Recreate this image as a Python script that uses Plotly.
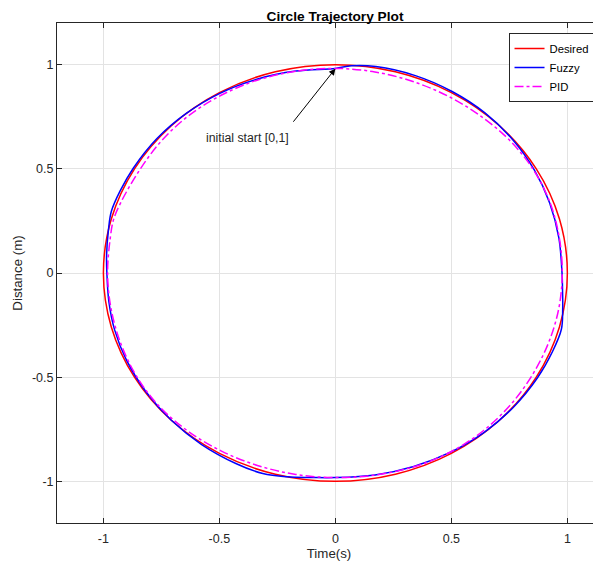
import numpy as np
import plotly.graph_objects as go

# ---- data (angles in degrees, radii) ----
DESIRED_ANG = [0, 15, 30, 45, 60, 75, 90, 105, 120, 135, 150, 165, 180, 195, 210, 225,
               240, 255, 270, 285, 300, 315, 330, 345, 360]
DESIRED_R = [1.0, 1.0, 1.0, 1.0, 1.0, 1.0, 1.0, 1.0, 1.0, 1.0, 1.0, 1.0, 1.0, 1.0, 1.0,
             1.0, 1.0, 1.0, 1.0, 1.0, 1.0, 1.0, 1.0, 1.0, 1.0]

FUZZY_ANG = [90, 100, 110, 120, 130, 140, 150, 157, 163, 168, 175, 180, 188, 196, 205, 215,
             225, 235, 245, 252, 258, 264, 270, 280, 290, 300, 310, 320, 330, 338, 344.5,
             350, 355, 360, 370, 380, 390, 400, 410, 420, 430, 440, 446, 450]
FUZZY_R = [0.982, 0.984, 0.99, 0.996, 1.0, 1.004, 1.006, 1.008, 1.01, 1.0, 0.99, 0.985,
           0.986, 0.99, 0.993, 0.996, 1.0, 1.005, 1.01, 1.012, 1.0, 0.987, 0.982, 0.984,
           0.988, 0.993, 0.998, 1.002, 1.006, 1.009, 1.011, 0.995, 0.983, 0.977, 0.978,
           0.983, 0.99, 0.997, 1.003, 1.006, 1.008, 1.006, 0.997, 0.982]

PID_ANG = [90, 100, 110, 120, 130, 140, 150, 160, 165, 170, 180, 190, 200, 210, 220, 230,
           240, 250, 260, 270, 280, 290, 300, 310, 320, 330, 340, 350, 360, 370, 380, 390,
           400, 410, 420, 430, 440, 450]
PID_R = [0.982, 0.983, 0.985, 0.985, 0.985, 0.982, 0.978, 0.985, 0.99, 0.985, 0.982, 0.982,
         0.985, 0.99, 0.993, 0.99, 0.986, 0.983, 0.982, 0.982, 0.985, 0.99, 0.992, 0.99,
         0.985, 0.98, 0.978, 0.978, 0.978, 0.98, 0.985, 0.987, 0.985, 0.98, 0.978, 0.978,
         0.98, 0.982]

X_TICKS = [-1, -0.5, 0, 0.5, 1]
X_TICK_TEXT = ["-1", "-0.5", "0", "0.5", "1"]
Y_TICKS = [-1, -0.5, 0, 0.5, 1]
Y_TICK_TEXT = ["-1", "-0.5", "0", "0.5", "1"]

START_POINT = (0.0, 0.981)
LABEL_TAIL = (-0.194, 0.708)
LABEL_POS = (-0.379, 0.646)


def to_xy(ang, r):
    a = np.deg2rad(np.array(ang, dtype=float))
    r = np.array(r, dtype=float)
    return r * np.cos(a), r * np.sin(a)


FONT = "Liberation Sans, Arial, Helvetica, sans-serif"
TXT = "#262626"

fig = go.Figure()
for name, ang, rad, color, dash in [
    ("Desired", DESIRED_ANG, DESIRED_R, "#ff0000", "solid"),
    ("Fuzzy", FUZZY_ANG, FUZZY_R, "#0000ff", "solid"),
    ("PID", PID_ANG, PID_R, "#ff00ff", "dashdot"),
]:
    x, y = to_xy(ang, rad)
    fig.add_trace(go.Scatter(x=x, y=y, mode="lines", name=name,
                             line=dict(color=color, width=1.5, dash=dash, shape="spline",
                                       smoothing=1.0)))

fig.add_annotation(x=START_POINT[0], y=START_POINT[1], ax=LABEL_TAIL[0], ay=LABEL_TAIL[1],
                   xref="x", yref="y", axref="x", ayref="y", text=" ", showarrow=True,
                   arrowhead=2, arrowsize=1.3, arrowwidth=1, arrowcolor="#000000")
fig.add_annotation(x=LABEL_POS[0], y=LABEL_POS[1], xref="x", yref="y",
                   text="initial start [0,1]", showarrow=False,
                   font=dict(family=FONT, size=12.3, color=TXT))

axis_common = dict(showgrid=True, gridcolor="#e3e3e3", gridwidth=1, zeroline=False,
                   showline=True, linecolor=TXT, linewidth=1, ticks="inside", ticklen=5,
                   tickcolor=TXT, tickfont=dict(family=FONT, size=12.5, color=TXT))

fig.update_xaxes(range=[-1.2, 1.145], tickvals=X_TICKS, ticktext=X_TICK_TEXT, mirror="ticks",
                 ticklabelstandoff=4,
                 title=dict(text="Time(s)", font=dict(family=FONT, size=13.3, color=TXT),
                            standoff=2),
                 **axis_common)
fig.update_yaxes(range=[-1.2, 1.2], tickvals=Y_TICKS, ticktext=Y_TICK_TEXT, mirror=False,
                 title=dict(text="Distance (m)", font=dict(family=FONT, size=13.3, color=TXT),
                            standoff=6),
                 **axis_common)

fig.update_layout(
    width=593, height=557,
    margin=dict(l=49, r=0, t=15, b=42, autoexpand=False),
    paper_bgcolor="white", plot_bgcolor="white",
    title=dict(text="<b>Circle Trajectory Plot</b>", x=327 / 593, xanchor="center",
               y=1 - 8 / 557, yanchor="middle",
               font=dict(family=FONT, size=13.7, color="#000000")),
    legend=dict(x=0.83, y=0.98, xanchor="left", yanchor="top", bgcolor="white",
                bordercolor=TXT, borderwidth=1,
                font=dict(family=FONT, size=11.3, color="#000000"),
                tracegroupgap=0),
    showlegend=True,
)

fig.write_html("out.html")
